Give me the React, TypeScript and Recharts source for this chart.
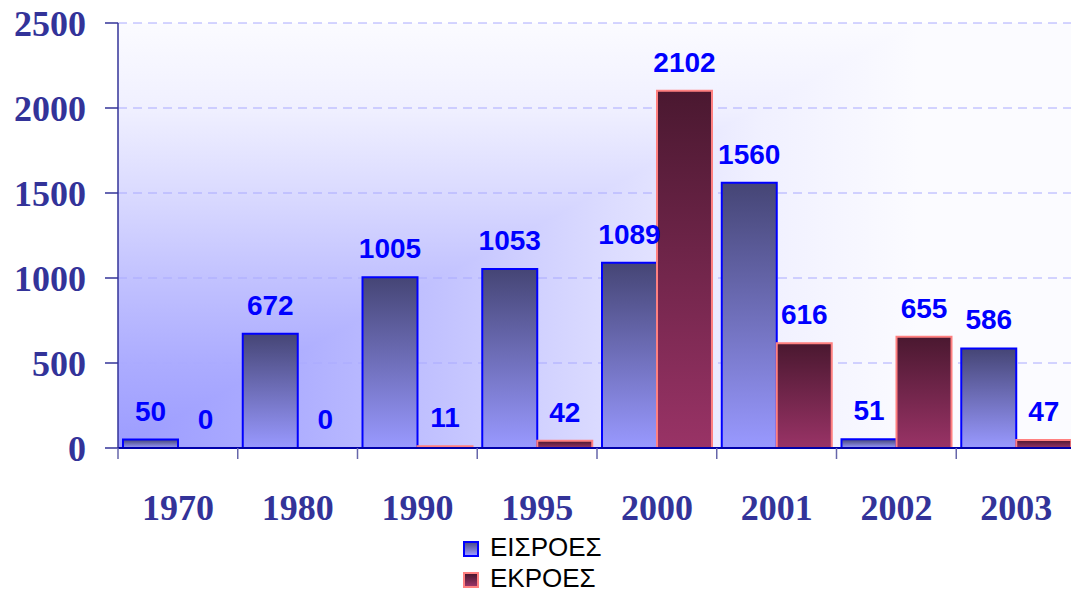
import { BarChart, Bar, XAxis, YAxis, CartesianGrid, Legend, LabelList, Cell } from "recharts";

const years = ["1970", "1980", "1990", "1995", "2000", "2001", "2002", "2003"];
const inflows = [50, 672, 1005, 1053, 1089, 1560, 51, 586];
const outflows = [0, 0, 11, 42, 2102, 616, 655, 47];
const yTicks = [0, 500, 1000, 1500, 2000, 2500];
const seriesNames = ["ΕΙΣΡΟΕΣ", "ΕΚΡΟΕΣ"];

const data = years.map((year, i) => ({ year, inflow: inflows[i], outflow: outflows[i] }));

const W = 1076;
const H = 594;
const Y_W = 118;
const TOP = 23;
const X_H = 84;
const LEG_H = 62;
const PLOT_W = W - Y_W;
const PLOT_H = H - TOP - X_H - LEG_H;
const BAND = PLOT_W / years.length;
const FADE_W = 800;

const serif = "'Liberation Serif', 'Times New Roman', serif";
const sans = "'Liberation Sans', Arial, sans-serif";

const bgStops = [
  ["0", "#9c9cff"],
  ["0.2", "#acacff"],
  ["0.4", "#c2c2ff"],
  ["0.6", "#dadaff"],
  ["0.8", "#f0f0ff"],
  ["1", "#fbfbff"],
];

// zero bars keep a hair-thin rect so their "0" label is still placed
const keepZero = (v: number) => (v === 0 ? 0.01 : 0);

function XTick(props: any) {
  const { x, y, payload } = props;
  return (
    <g>
      <line x1={x - BAND / 2} x2={x - BAND / 2} y1={y} y2={y + 11} stroke="#6666aa" strokeWidth={1.5} />
      <text x={x} y={y + 72} textAnchor="middle" fill="#333399" fontSize={36} fontWeight="bold" fontFamily={serif}>
        {payload.value}
      </text>
    </g>
  );
}

function ValueLabel(props: any) {
  const { x, y, width, value } = props;
  return (
    <text x={x + width / 2} y={y - 19} textAnchor="middle" fill="#0000ff" fontSize={28} fontWeight="bold" fontFamily={sans}>
      {String(value)}
    </text>
  );
}

function LegendBox() {
  const sq = (bg: string, border: string) => ({
    position: "absolute" as const,
    left: 0,
    top: 9,
    width: 16,
    height: 16,
    boxSizing: "border-box" as const,
    background: bg,
    border: `2px solid ${border}`,
  });
  const row = (top: number) => ({
    position: "absolute" as const,
    left: 463,
    top,
    height: 31,
    fontFamily: sans,
    fontSize: 26,
    lineHeight: "31px",
    color: "#000",
    whiteSpace: "nowrap" as const,
  });
  return (
    <div style={{ position: "relative", width: 1071, height: LEG_H }}>
      <div style={row(0)}>
        <span style={sq("linear-gradient(#50508c, #9999ff)", "#0000ff")} />
        <span style={{ marginLeft: 27 }}>{seriesNames[0]}</span>
      </div>
      <div style={row(31)}>
        <span style={sq("linear-gradient(#4a1830, #993366)", "#ff8080")} />
        <span style={{ marginLeft: 27 }}>{seriesNames[1]}</span>
      </div>
    </div>
  );
}

export default function App() {
  return (
    <div style={{ position: "absolute", left: 0, top: 0, width: 1071, height: H, overflow: "hidden", background: "#fff" }}>
      <BarChart
        width={W}
        height={H}
        data={data}
        margin={{ top: TOP, right: 0, left: 0, bottom: 0 }}
        barCategoryGap={5}
        barGap={0}
      >
        <defs>
          <linearGradient id="bgV" gradientUnits="userSpaceOnUse" x1="0" y1={PLOT_H} x2="0" y2="0">
            {bgStops.map(([o, c]) => (
              <stop key={o} offset={o} stopColor={c} />
            ))}
          </linearGradient>
          <linearGradient id="bgH" gradientUnits="userSpaceOnUse" x1="0" y1="0" x2={FADE_W} y2="0">
            {bgStops.map(([o, c]) => (
              <stop key={o} offset={o} stopColor={c} />
            ))}
          </linearGradient>
          <pattern id="bgPat" patternUnits="userSpaceOnUse" x={Y_W} y={TOP} width={PLOT_W} height={PLOT_H}>
            <rect x={0} y={0} width={PLOT_W} height={PLOT_H} fill="url(#bgV)" />
            <polygon
              points={`0,${PLOT_H} ${FADE_W},0 ${PLOT_W},0 ${PLOT_W},${PLOT_H}`}
              fill="url(#bgH)"
            />
          </pattern>
          <linearGradient id="blueBar" x1="0" y1="0" x2="0" y2="1">
            <stop offset="0" stopColor="#454575" />
            <stop offset="1" stopColor="#9999ff" />
          </linearGradient>
          <linearGradient id="redBar" x1="0" y1="0" x2="0" y2="1">
            <stop offset="0" stopColor="#4a1830" />
            <stop offset="1" stopColor="#993366" />
          </linearGradient>
        </defs>
        <CartesianGrid
          vertical={false}
          stroke="#aaaaff"
          strokeDasharray="9 6"
          fill="url(#bgPat)"
          fillOpacity={1}
        />
        <XAxis
          dataKey="year"
          height={X_H}
          tickSize={0}
          tickMargin={0}
          tickLine={false}
          axisLine={{ stroke: "#0000aa", strokeWidth: 2 }}
          tick={<XTick />}
          interval={0}
        />
        <YAxis
          width={Y_W}
          domain={[0, 2500]}
          ticks={yTicks}
          interval={0}
          tickSize={13}
          tickMargin={19}
          axisLine={{ stroke: "#333399", strokeWidth: 1.5 }}
          tickLine={{ stroke: "#333399", strokeWidth: 1.5 }}
          tick={{ fill: "#333399", fontSize: 36, fontWeight: "bold", fontFamily: serif }}
        />
        <Legend
          verticalAlign="bottom"
          content={<LegendBox />}
          wrapperStyle={{ left: 0, width: 1071, height: LEG_H }}
        />
        <Bar
          dataKey="inflow"
          name={seriesNames[0]}
          fill="url(#blueBar)"
          stroke="#0000ff"
          strokeWidth={2}
          minPointSize={keepZero}
          isAnimationActive={false}
        >
          {inflows.map((v, i) => (
            <Cell key={i} stroke={v === 0 ? "none" : "#0000ff"} fill={v === 0 ? "none" : "url(#blueBar)"} />
          ))}
          <LabelList dataKey="inflow" content={<ValueLabel />} />
        </Bar>
        <Bar
          dataKey="outflow"
          name={seriesNames[1]}
          fill="url(#redBar)"
          stroke="#ff8080"
          strokeWidth={2}
          minPointSize={keepZero}
          isAnimationActive={false}
        >
          {outflows.map((v, i) => (
            <Cell key={i} stroke={v === 0 ? "none" : "#ff8080"} fill={v === 0 ? "none" : "url(#redBar)"} />
          ))}
          <LabelList dataKey="outflow" content={<ValueLabel />} />
        </Bar>
      </BarChart>
    </div>
  );
}
